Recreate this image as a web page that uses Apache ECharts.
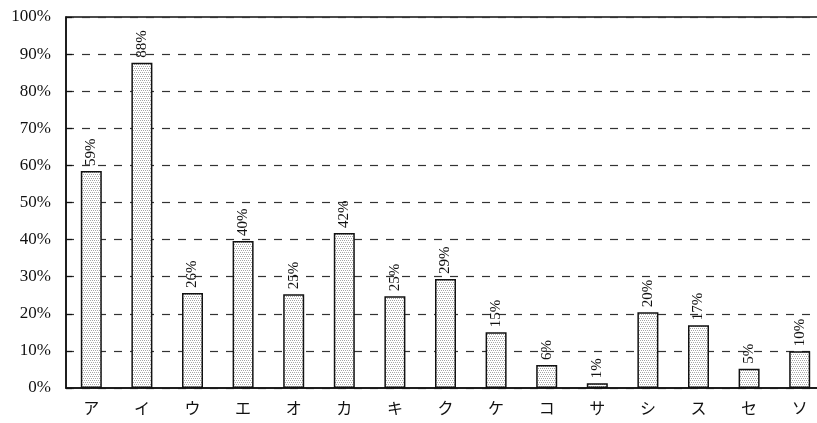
<!DOCTYPE html>
<html>
<head>
<meta charset="utf-8">
<style>
  html, body { margin: 0; padding: 0; background: #fff; }
  #chart { width: 817px; height: 423px; }
</style>
<script src="https://cdn.jsdelivr.net/npm/echarts@6/dist/echarts.min.js"></script>
</head>
<body>
<div id="chart"></div>
<script>
// Response categories and their share (percent)
const categories = ['ア', 'イ', 'ウ', 'エ', 'オ', 'カ', 'キ', 'ク', 'ケ', 'コ', 'サ', 'シ', 'ス', 'セ', 'ソ'];
const shares = [58.5, 87.7, 25.6, 39.6, 25.3, 41.8, 24.7, 29.4, 15.0, 6.2, 1.3, 20.4, 16.9, 5.2, 9.9];
const yTicks = { min: 0, max: 100, step: 10 };

const FONT = "'Liberation Serif', 'Noto Sans CJK JP', serif";
const INK = '#111';

// Fine staggered dot fill for the bars
function dotPattern() {
  const c = document.createElement('canvas');
  c.width = 4; c.height = 4;
  const g = c.getContext('2d');
  g.fillStyle = '#ffffff';
  g.fillRect(0, 0, 4, 4);
  g.fillStyle = '#a6a6a6';
  [[0, 0], [2, 0], [1, 2], [3, 2]].forEach(([x, y]) => g.fillRect(x, y, 1, 1));
  return c;
}

const chart = echarts.init(document.getElementById('chart'), null, { renderer: 'canvas' });

chart.setOption({
  animation: false,
  backgroundColor: '#fff',
  // plot area runs slightly past the right edge of the canvas
  grid: {
    left: 66, right: -8, top: 17, bottom: 35,
    outerBoundsMode: 'none',
    containLabel: false,
    show: true, borderColor: INK, borderWidth: 1.5, backgroundColor: 'transparent'
  },
  xAxis: {
    type: 'category',
    data: categories,
    boundaryGap: true,
    axisLine: { lineStyle: { color: INK, width: 1.5 } },
    axisTick: { inside: true, length: 5, lineStyle: { color: INK, width: 1.2 } },
    axisLabel: { color: INK, fontFamily: FONT, fontSize: 16, margin: 14 }
  },
  yAxis: {
    type: 'value',
    min: yTicks.min, max: yTicks.max, interval: yTicks.step,
    axisLine: { show: true, lineStyle: { color: INK, width: 1.5 } },
    axisTick: { show: true, inside: true, length: 6, lineStyle: { color: INK, width: 1.2 } },
    axisLabel: { color: INK, fontFamily: FONT, fontSize: 17, margin: 15, formatter: '{value}%' },
    splitLine: { show: true, lineStyle: { color: '#333', width: 1.2, type: [8, 8] } }
  },
  series: [{
    type: 'bar',
    data: shares,
    barWidth: 21,
    itemStyle: {
      color: { image: dotPattern(), repeat: 'repeat' },
      borderColor: INK,
      borderWidth: 1.5
    },
    label: {
      show: true,
      position: 'top',
      rotate: 90,
      align: 'left',
      verticalAlign: 'middle',
      distance: 5,
      color: INK,
      fontFamily: FONT,
      fontSize: 15,
      formatter: p => Math.round(p.value) + '%'
    }
  }]
});
</script>
</body>
</html>
